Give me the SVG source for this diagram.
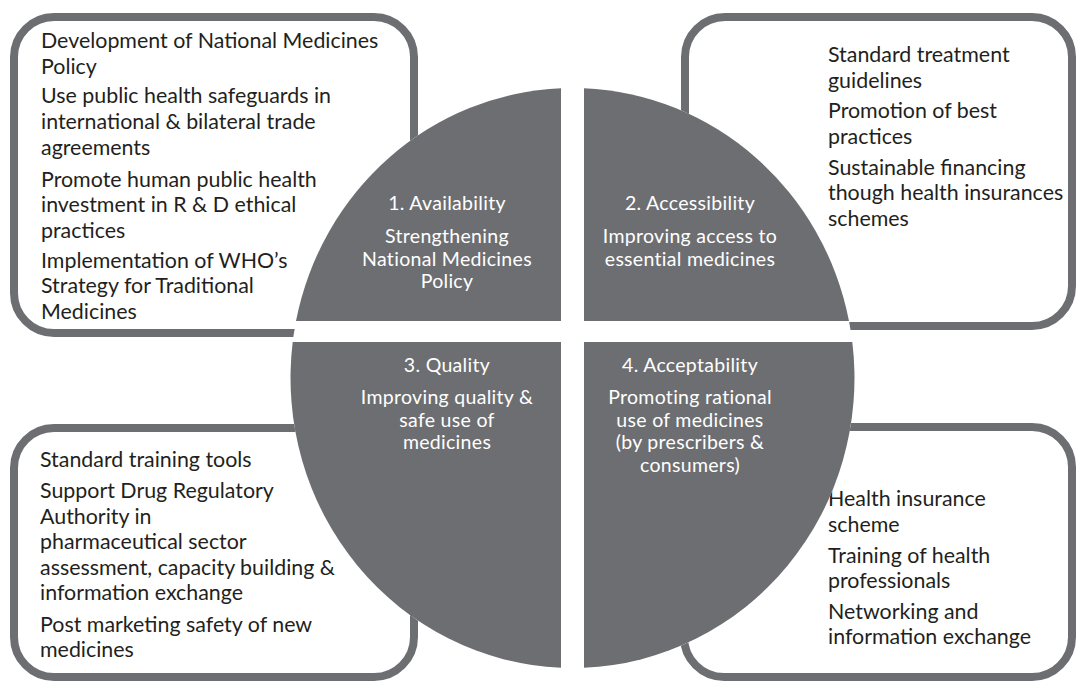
<svg xmlns="http://www.w3.org/2000/svg" width="1076" height="682" viewBox="0 0 1076 682">
<style>
.box{fill:#ffffff;stroke:#6d6e71;stroke-width:8}
.q{fill:#6d6e71}
.bt{font-family:Lato,"Open Sans","Liberation Sans",sans-serif;font-size:21.4px;fill:#231f20}
.qt{font-family:Lato,"Open Sans","Liberation Sans",sans-serif;font-size:19.5px;letter-spacing:0.3px;fill:#ffffff;text-anchor:middle}
</style>
<rect width="1076" height="682" fill="#ffffff"/>
<g id="box-availability">
<rect class="box" x="14" y="17" width="400" height="316" rx="40" ry="40"/>
<text class="bt" x="41" y="48">Development of National Medicines</text>
<text class="bt" x="41" y="74">Policy</text>
<text class="bt" x="41" y="103">Use public health safeguards in</text>
<text class="bt" x="41" y="129">international &amp; bilateral trade</text>
<text class="bt" x="41" y="155">agreements</text>
<text class="bt" x="41" y="187">Promote human public health</text>
<text class="bt" x="41" y="212">investment in R &amp; D ethical</text>
<text class="bt" x="41" y="238">practices</text>
<text class="bt" x="41" y="268">Implementation of WHO’s</text>
<text class="bt" x="41" y="293">Strategy for Traditional</text>
<text class="bt" x="41" y="319">Medicines</text>
</g>
<g id="box-accessibility">
<rect class="box" x="685" y="17" width="387" height="309" rx="40" ry="40"/>
<text class="bt" x="828" y="62">Standard treatment</text>
<text class="bt" x="828" y="88">guidelines</text>
<text class="bt" x="828" y="118">Promotion of best</text>
<text class="bt" x="828" y="144">practices</text>
<text class="bt" x="828" y="175">Sustainable financing</text>
<text class="bt" x="828" y="200">though health insurances</text>
<text class="bt" x="828" y="226">schemes</text>
</g>
<g id="box-quality">
<rect class="box" x="14" y="428" width="400" height="249" rx="40" ry="40"/>
<text class="bt" x="40" y="467">Standard training tools</text>
<text class="bt" x="40" y="498">Support Drug Regulatory</text>
<text class="bt" x="40" y="524">Authority in</text>
<text class="bt" x="40" y="549">pharmaceutical sector</text>
<text class="bt" x="40" y="575">assessment, capacity building &amp;</text>
<text class="bt" x="40" y="600">information exchange</text>
<text class="bt" x="40" y="632">Post marketing safety of new</text>
<text class="bt" x="40" y="657">medicines</text>
</g>
<g id="box-acceptability">
<rect class="box" x="684" y="427" width="388" height="250" rx="40" ry="40"/>
<text class="bt" x="828" y="506">Health insurance</text>
<text class="bt" x="828" y="532">scheme</text>
<text class="bt" x="828" y="563">Training of health</text>
<text class="bt" x="828" y="588">professionals</text>
<text class="bt" x="828" y="619">Networking and</text>
<text class="bt" x="828" y="644">information exchange</text>
</g>
<ellipse cx="572.5" cy="378" rx="282" ry="290" fill="#ffffff"/>
<g id="q1-availability">
<path class="q" d="M561,321 L296,321 A282,290 0 0 1 561,88.2 Z"/>
<text class="qt" x="447" y="210">1. Availability</text>
<text class="qt" x="447" y="243">Strengthening</text>
<text class="qt" x="447" y="265.5">National Medicines</text>
<text class="qt" x="447" y="288">Policy</text>
</g>
<g id="q2-accessibility">
<path class="q" d="M584,321 L584,88.2 A282,290 0 0 1 849,321 Z"/>
<text class="qt" x="690" y="210">2. Accessibility</text>
<text class="qt" x="690" y="243">Improving access to</text>
<text class="qt" x="690" y="265.5">essential medicines</text>
</g>
<g id="q3-quality">
<path class="q" d="M561,342 L292.7,342 A282,290 0 0 0 561,667.8 Z"/>
<text class="qt" x="447" y="372">3. Quality</text>
<text class="qt" x="447" y="404">Improving quality &amp;</text>
<text class="qt" x="447" y="426.5">safe use of</text>
<text class="qt" x="447" y="449">medicines</text>
</g>
<g id="q4-acceptability">
<path class="q" d="M584,342 L584,667.8 A282,290 0 0 0 852.3,342 Z"/>
<text class="qt" x="690" y="372">4. Acceptability</text>
<text class="qt" x="690" y="404">Promoting rational</text>
<text class="qt" x="690" y="426.5">use of medicines</text>
<text class="qt" x="690" y="449">(by prescribers &amp;</text>
<text class="qt" x="690" y="471.5">consumers)</text>
</g>
</svg>
